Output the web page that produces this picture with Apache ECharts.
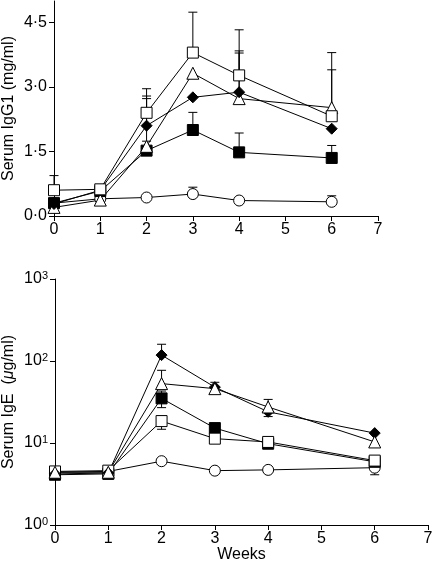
<!DOCTYPE html>
<html>
<head>
<meta charset="utf-8">
<script src="https://cdn.jsdelivr.net/npm/echarts@6/dist/echarts.min.js"></script>
<style>
html,body{margin:0;padding:0;background:#fff;}
#chart{width:434px;height:566px;}
</style>
</head>
<body>
<div id="chart"></div>
<script>
// ---- Data ----
const weeks = [0, 1, 2, 3, 4, 6];
const xTicks = [0, 1, 2, 3, 4, 5, 6, 7];
const igg1Ticks = [0, 1.5, 3, 4.5];
const igeTicks = [1, 10, 100, 1000];

// Serum IgG1 (mg/ml): means and upper error bounds (null = no visible bar)
const igg1OpenSquare   = [0.60, 0.62, 2.40, 3.80, 3.27, 2.32];
const igg1OpenSquareHi = [0.94, 0.72, 2.96, 4.74, 4.33, 3.80];
const igg1Triangle     = [0.20, 0.37, 1.62, 3.32, 2.73, 2.52];
const igg1TriangleHi   = [null, null, 2.73, null, 3.84, 3.40];
const igg1Diamond      = [0.28, 0.60, 2.10, 2.76, 2.88, 2.03];
const igg1DiamondHi    = [null, null, 2.79, null, 3.79, null];
const igg1FilledSquare = [0.30, 0.58, 1.52, 2.00, 1.48, 1.35];
const igg1FilledSquareHi = [null, null, 1.74, 2.41, 1.93, 1.64];
const igg1Circle       = [0.30, 0.40, 0.43, 0.51, 0.36, 0.33];
const igg1CircleHi     = [null, null, null, 0.67, null, 0.47];

// Serum IgE (µg/ml): means, upper and lower error bounds
const igeDiamond      = [4.2, 4.3, 118, 48, 24, 13.2];
const igeDiamondHi    = [null, null, 160, null, null, null];
const igeDiamondLo    = [null, null, null, null, 21, null];
const igeTriangle     = [4.4, 4.4, 53, 46, 27.5, 10.3];
const igeTriangleHi   = [null, null, 77, 55, 34, null];
const igeTriangleLo   = [null, null, null, 41, null, 8.9];
const igeFilledSquare = [4.1, 4.2, 35, 15.2, 9.8, 5.9];
const igeFilledSquareHi = [null, null, 43, null, null, null];
const igeFilledSquareLo = [null, null, 27, null, null, null];
const igeOpenSquare   = [4.5, 4.6, 18.5, 11.3, 10.3, 6.1];
const igeOpenSquareHi = [null, null, 21.2, null, null, null];
const igeOpenSquareLo = [null, null, 14.7, null, null, null];
const igeCircle       = [4.4, 4.5, 6.0, 4.6, 4.7, 5.0];
const igeCircleHi     = [null, null, null, null, null, null];
const igeCircleLo     = [null, null, null, null, null, 4.1];

// ---- Chart ----
const FONT = "'Liberation Sans', Arial, Helvetica, sans-serif";
const FS = 16;
const chart = echarts.init(document.getElementById('chart'), null, {renderer: 'canvas'});

const styles = {
  openSquare:   {symbol: 'rect', size: 11, fill: '#fff'},
  filledSquare: {symbol: 'rect', size: 11, fill: '#000'},
  triangle:     {symbol: 'triangle', size: 12, fill: '#fff'},
  diamond:      {symbol: 'diamond', size: 11, fill: '#000'},
  circle:       {symbol: 'circle', size: 11, fill: '#fff'}
};

function lineSeries(idx, vals, st) {
  return {
    type: 'line', xAxisIndex: idx, yAxisIndex: idx,
    data: weeks.map((w, i) => [w, vals[i]]),
    symbol: st.symbol, symbolSize: st.size, showAllSymbol: true,
    itemStyle: {color: st.fill, borderColor: '#000', borderWidth: 1},
    lineStyle: {color: '#000', width: 1},
    emphasis: {disabled: true}, clip: false, z: 3, animation: false
  };
}

function errSeries(idx, vals, hi, lo) {
  const data = weeks.map((w, i) => [w, vals[i],
    hi && hi[i] != null ? hi[i] : NaN,
    lo && lo[i] != null ? lo[i] : NaN]);
  return {
    type: 'custom', xAxisIndex: idx, yAxisIndex: idx, data: data, z: 2,
    clip: false, animation: false, silent: true,
    renderItem: function (params, api) {
      const x = api.value(0), y = api.value(1), h = api.value(2), l = api.value(3);
      const c = api.coord([x, y]);
      const children = [];
      const cap = 4.5;
      [h, l].forEach(function (b) {
        if (b == null || isNaN(b)) return;
        const p = api.coord([x, b]);
        children.push({type: 'line', shape: {x1: c[0], y1: c[1], x2: p[0], y2: p[1]},
          style: {stroke: '#000', lineWidth: 1}});
        children.push({type: 'line', shape: {x1: p[0] - cap, y1: p[1], x2: p[0] + cap, y2: p[1]},
          style: {stroke: '#000', lineWidth: 1}});
      });
      return {type: 'group', children: children};
    }
  };
}

const axisLine = {show: true, onZero: false, lineStyle: {color: '#000', width: 1}};
const axisTick = {show: true, inside: false, length: 5, lineStyle: {color: '#000', width: 1}};
const labelBase = {color: '#000', fontSize: FS, fontFamily: FONT};

const option = {
  backgroundColor: '#fff',
  animation: false,
  grid: [
    {left: 54, top: 1, width: 324, height: 215, containLabel: false, outerBoundsMode: 'none'},
    {left: 55, top: 279, width: 373, height: 246, containLabel: false, outerBoundsMode: 'none'}
  ],
  xAxis: [
    {gridIndex: 0, type: 'value', min: 0, max: 7, interval: 1,
     axisLine: axisLine, axisTick: axisTick, splitLine: {show: false},
     axisLabel: Object.assign({margin: 6}, labelBase)},
    {gridIndex: 1, type: 'value', min: 0, max: 7, interval: 1,
     axisLine: axisLine, axisTick: axisTick, splitLine: {show: false},
     axisLabel: Object.assign({margin: 6}, labelBase),
     name: 'Weeks', nameLocation: 'middle', nameGap: 22, nameMoveOverlap: false,
     nameTextStyle: {color: '#000', fontSize: FS, fontFamily: FONT}}
  ],
  yAxis: [
    {gridIndex: 0, type: 'value', min: 0, max: 5,
     axisLine: axisLine, splitLine: {show: false},
     axisTick: Object.assign({customValues: igg1Ticks}, axisTick),
     axisLabel: Object.assign({margin: 7, customValues: igg1Ticks,
       formatter: v => v.toFixed(1).replace('.', '\u00B7')}, labelBase),
     name: 'Serum IgG1 (mg/ml)', nameLocation: 'middle', nameGap: 37, nameRotate: 90,
     nameMoveOverlap: false,
     nameTextStyle: {color: '#000', fontSize: FS, fontFamily: FONT}},
    {gridIndex: 1, type: 'log', logBase: 10, min: 1, max: 1000,
     axisLine: axisLine, splitLine: {show: false}, minorTick: {show: false},
     axisTick: axisTick,
     axisLabel: Object.assign({margin: 7,
       formatter: v => '{b|10}{s|' + Math.round(Math.log10(v)) + '}',
       rich: {
         b: {fontSize: FS, fontFamily: FONT, color: '#000'},
         s: {fontSize: 11, fontFamily: FONT, color: '#000', verticalAlign: 'top', padding: [0, 0, 7, 0]}
       }}, labelBase),
     name: 'Serum IgE  ({i|\u03BC}g/ml)', nameLocation: 'middle', nameGap: 38, nameRotate: 90,
     nameMoveOverlap: false,
     nameTextStyle: {color: '#000', fontSize: FS, fontFamily: FONT,
       rich: {i: {fontStyle: 'italic', fontSize: FS, fontFamily: FONT, color: '#000'}}}}
  ],
  series: [
    // top panel
    errSeries(0, igg1Circle, igg1CircleHi, null),
    errSeries(0, igg1FilledSquare, igg1FilledSquareHi, null),
    errSeries(0, igg1Triangle, igg1TriangleHi, null),
    errSeries(0, igg1Diamond, igg1DiamondHi, null),
    errSeries(0, igg1OpenSquare, igg1OpenSquareHi, null),
    lineSeries(0, igg1Circle, styles.circle),
    lineSeries(0, igg1FilledSquare, styles.filledSquare),
    lineSeries(0, igg1Triangle, styles.triangle),
    lineSeries(0, igg1Diamond, styles.diamond),
    lineSeries(0, igg1OpenSquare, styles.openSquare),
    // bottom panel
    errSeries(1, igeCircle, igeCircleHi, igeCircleLo),
    errSeries(1, igeFilledSquare, igeFilledSquareHi, igeFilledSquareLo),
    errSeries(1, igeOpenSquare, igeOpenSquareHi, igeOpenSquareLo),
    errSeries(1, igeDiamond, igeDiamondHi, igeDiamondLo),
    errSeries(1, igeTriangle, igeTriangleHi, igeTriangleLo),
    lineSeries(1, igeCircle, styles.circle),
    lineSeries(1, igeFilledSquare, styles.filledSquare),
    lineSeries(1, igeOpenSquare, styles.openSquare),
    lineSeries(1, igeDiamond, styles.diamond),
    lineSeries(1, igeTriangle, styles.triangle)
  ]
};
chart.setOption(option);
</script>
</body>
</html>
